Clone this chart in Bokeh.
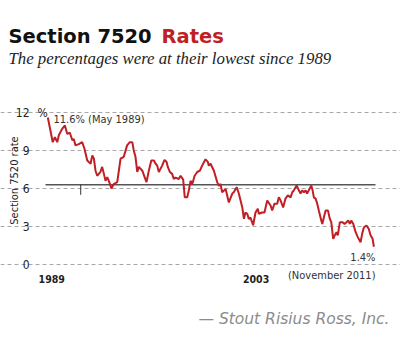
import math
from bokeh.plotting import figure
from bokeh.models import Range1d, FixedTicker, Label, LinearAxis, Grid
from bokeh.embed import file_html
from bokeh.resources import INLINE

# ---- data ----
years = [1989.33, 1989.67, 1989.82, 1989.98, 1990.09, 1990.32, 1990.51, 1990.67, 1990.85, 1991.02,
         1991.12, 1991.24, 1991.47, 1991.70, 1991.86, 1992.05, 1992.28, 1992.40, 1992.51, 1992.62,
         1992.74, 1992.96, 1993.08, 1993.20, 1993.31, 1993.43, 1993.54, 1993.72, 1993.88, 1994.12,
         1994.35, 1994.57, 1994.80, 1994.99, 1995.16, 1995.26, 1995.38, 1995.50, 1995.61, 1995.85,
         1996.01, 1996.14, 1996.30, 1996.47, 1996.65, 1996.77, 1996.88, 1996.99, 1997.22, 1997.38,
         1997.52, 1997.61, 1997.75, 1997.91, 1998.02, 1998.14, 1998.37, 1998.49, 1998.67, 1998.78,
         1998.95, 1999.06, 1999.18, 1999.30, 1999.46, 1999.64, 1999.82, 1999.98, 2000.21, 2000.37,
         2000.44, 2000.56, 2000.79, 2001.02, 2001.13, 2001.25, 2001.36, 2001.60, 2001.82, 2002.06,
         2002.16, 2002.36, 2002.51, 2002.75, 2002.86, 2002.97, 2003.09, 2003.20, 2003.31, 2003.50,
         2003.66, 2003.82, 2003.89, 2004.12, 2004.28, 2004.47, 2004.70, 2004.81, 2004.97, 2005.16,
         2005.27, 2005.39, 2005.57, 2005.73, 2005.89, 2006.08, 2006.20, 2006.31, 2006.50, 2006.65,
         2006.77, 2006.88, 2007.00, 2007.12, 2007.22, 2007.34, 2007.51, 2007.60, 2007.69, 2007.81,
         2007.92, 2008.03, 2008.20, 2008.27, 2008.38, 2008.50, 2008.66, 2008.79, 2008.89, 2009.02,
         2009.13, 2009.25, 2009.34, 2009.48, 2009.65, 2009.81, 2009.94, 2010.06, 2010.17, 2010.27,
         2010.41, 2010.57, 2010.72, 2010.91, 2011.02, 2011.14, 2011.32, 2011.48, 2011.60, 2011.74,
         2011.83]
rates = [11.6, 9.65, 10.05, 9.65, 10.2, 10.7, 10.97, 10.3, 10.4, 9.8,
         9.9, 9.4, 9.5, 9.65, 9.13, 8.2, 7.95, 8.6, 8.35, 7.4,
         7.0, 7.3, 7.7, 7.15, 6.6, 6.9, 6.6, 6.0, 6.35, 6.5,
         8.35, 8.5, 9.4, 9.65, 9.65, 9.0, 8.5, 7.3, 7.7, 7.4,
         6.9, 6.5, 7.4, 8.2, 8.2, 7.95, 7.8, 7.3, 7.8, 8.25,
         8.1, 7.7, 7.3, 7.15, 6.75, 6.85, 6.75, 7.0, 6.7, 5.3,
         5.3, 5.85, 6.6, 6.35, 7.0, 7.3, 7.4, 7.8, 8.3, 8.1,
         7.8, 7.95, 7.4, 6.5, 6.2, 6.35, 5.7, 5.95, 4.9, 5.6,
         5.7, 6.1, 5.6, 4.5, 3.6, 4.1, 4.0, 3.6, 3.7, 3.1,
         4.1, 4.4, 4.0, 4.1, 4.1, 5.05, 4.65, 4.26, 4.8, 4.8,
         5.3, 5.05, 4.5, 5.2, 5.45, 5.3, 5.7, 5.85, 6.24, 5.85,
         5.6, 5.85, 5.7, 5.85, 5.6, 5.85, 6.24, 5.85, 5.3, 5.2,
         4.8, 4.26, 3.47, 3.2, 3.73, 4.26, 4.26, 3.6, 3.34, 2.03,
         2.3, 2.55, 2.3, 3.34, 3.34, 3.2, 3.34, 3.47, 3.2, 3.47,
         3.2, 2.55, 2.16, 1.76, 2.42, 2.94, 3.07, 2.8, 2.3, 2.03,
         1.4]
y_ticks = [0, 3, 6, 9, 12]
x_tick_labels = ["1989", "2003"]
x_ticks = [1989.6, 2003.7]
ref_line = 6.3
marker_year = 1991.6

NARROW = "DejaVu Sans Condensed"
RED = "#c01f25"
W, H = 400, 354

# plot-area geometry (pixels) and its data extent
FL, FR, FT, FB = 45, 376, 100, 268
AX0, AX1 = 1989.17, 2012.01
AY0, AY1 = -0.316, 12.94
SX = (FR - FL) / (AX1 - AX0)
SY = (FB - FT) / (AY1 - AY0)

def px2x(px):
    return AX0 + (px - FL) / SX

def py2y(py):
    return AY0 + (FB - py) / SY

p = figure(width=W, height=H, output_backend="svg", toolbar_location=None,
           x_range=Range1d(px2x(0), px2x(W)), y_range=Range1d(py2y(H), py2y(0)),
           x_axis_type=None, y_axis_type=None,
           min_border=0, min_border_left=0, min_border_right=0,
           min_border_top=0, min_border_bottom=0)
p.outline_line_color = None
p.background_fill_color = "white"
p.border_fill_color = "white"
p.xgrid.visible = False
p.ygrid.visible = False

yaxis = LinearAxis(fixed_location=AX0, ticker=FixedTicker(ticks=y_ticks))
yaxis.axis_line_color = None
yaxis.major_tick_line_color = None
yaxis.minor_tick_line_color = None
yaxis.major_label_standoff = 10
yaxis.major_label_text_font = NARROW
yaxis.major_label_text_font_size = "12px"
yaxis.major_label_text_color = "#222222"
p.add_layout(yaxis, "left")

xaxis = LinearAxis(fixed_location=AY0, ticker=FixedTicker(ticks=x_ticks))
xaxis.major_label_overrides = {t: l for t, l in zip(x_ticks, x_tick_labels)}
xaxis.axis_line_color = None
xaxis.major_tick_line_color = None
xaxis.minor_tick_line_color = None
xaxis.major_label_standoff = 0
xaxis.major_label_text_font = NARROW
xaxis.major_label_text_font_size = "10.5px"
xaxis.major_label_text_font_style = "bold"
xaxis.major_label_text_color = "#222222"
p.add_layout(xaxis, "below")

grid = Grid(dimension=1, ticker=FixedTicker(ticks=y_ticks), bounds=(AX0, px2x(375)),
            grid_line_color="#a8a8a8", grid_line_dash="4 3", grid_line_width=1)
p.add_layout(grid)

# reference line + small marker
p.segment(x0=[AX0], y0=[ref_line], x1=[px2x(375)], y1=[ref_line], line_color="#555555", line_width=1.5)
p.segment(x0=[marker_year], y0=[5.5], x1=[marker_year], y1=[ref_line], line_color="#333333", line_width=1)

# series
p.line(years, rates, line_color=RED, line_width=2)

# y axis title (rotated)
p.add_layout(Label(x=px2x(14), y=py2y(180), text="Section 7520 rate", text_font=NARROW,
                   text_font_size="11px", text_color="#222222", angle=math.pi / 2,
                   text_align="center", text_baseline="middle"))

# percent sign for the top tick
p.add_layout(Label(x=px2x(37), y=py2y(112), text="%", text_font=NARROW, text_font_size="12px",
                   text_color="#222222", text_baseline="middle", text_align="left"))

# annotations
p.add_layout(Label(x=px2x(53), y=py2y(119), text="11.6% (May 1989)", text_font=NARROW,
                   text_font_size="11px", text_color="#333333", text_baseline="middle"))
p.add_layout(Label(x=px2x(375), y=py2y(257), text="1.4%", text_font=NARROW,
                   text_font_size="11px", text_color="#333333", text_baseline="middle",
                   text_align="right"))
p.add_layout(Label(x=px2x(375), y=py2y(275), text="(November 2011)", text_font=NARROW,
                   text_font_size="11px", text_color="#333333", text_baseline="middle",
                   text_align="right"))

# title, subtitle, source
p.add_layout(Label(x=px2x(8), y=py2y(36), text="Section 7520", text_font="DejaVu Sans",
                   text_font_style="bold", text_font_size="19.5px", text_color="#111111",
                   text_baseline="middle"))
p.add_layout(Label(x=px2x(161), y=py2y(36), text="Rates", text_font="DejaVu Sans",
                   text_font_style="bold", text_font_size="19.5px", text_color=RED,
                   text_baseline="middle"))
p.add_layout(Label(x=px2x(8), y=py2y(58), text="The percentages were at their lowest since 1989",
                   text_font="Liberation Serif", text_font_style="italic", text_font_size="16.8px",
                   text_color="#222222", text_baseline="middle"))
p.add_layout(Label(x=px2x(389), y=py2y(318), text="\u2014 Stout Risius Ross, Inc.",
                   text_font="DejaVu Sans", text_font_style="italic", text_font_size="15.5px",
                   text_color="#8c8c8c", text_baseline="middle", text_align="right"))

open("out.html", "w").write(file_html(p, INLINE))
